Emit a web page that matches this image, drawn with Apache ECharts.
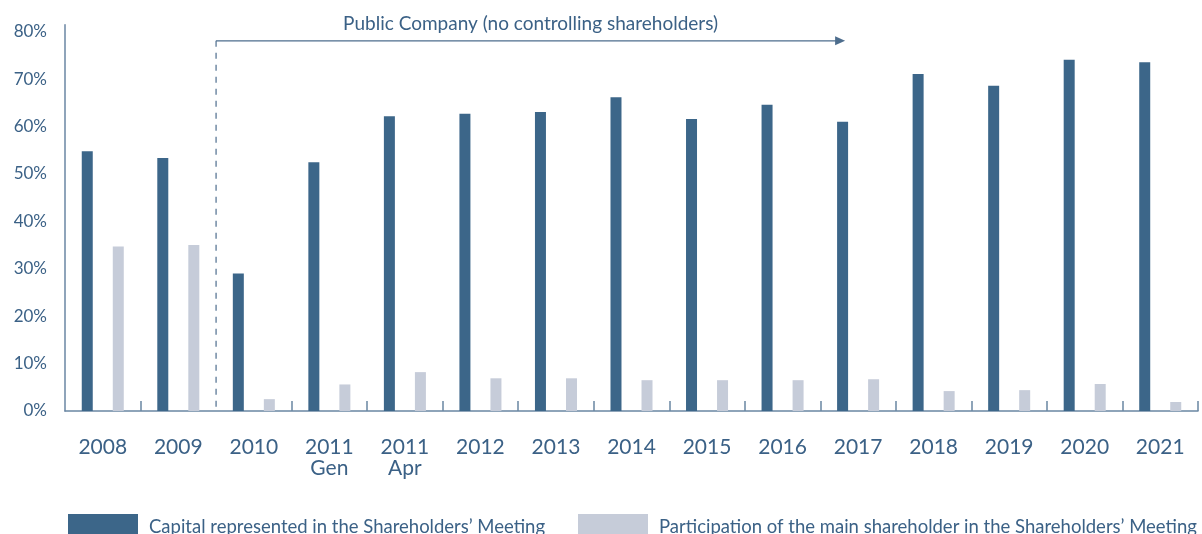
<!DOCTYPE html>
<html>
<head>
<meta charset="utf-8">
<script src="https://cdn.jsdelivr.net/npm/echarts@6/dist/echarts.min.js"></script>
<style>
html,body{margin:0;padding:0;background:#fff;}
#c{width:1202px;height:534px;}
</style>
</head>
<body>
<div id="c"></div>
<script>
const categories = ['2008','2009','2010','2011\nGen','2011\nApr','2012','2013','2014','2015','2016','2017','2018','2019','2020','2021'];
const capitalRepresented = [54.8, 53.4, 29.0, 52.5, 62.2, 62.7, 63.1, 66.2, 61.6, 64.6, 61.0, 71.1, 68.6, 74.1, 73.6];
const mainShareholder = [34.7, 35.0, 2.5, 5.6, 8.2, 6.9, 6.9, 6.5, 6.5, 6.5, 6.7, 4.2, 4.4, 5.7, 1.9];
const seriesNames = ['Capital represented in the Shareholders\u2019 Meeting', 'Participation of the main shareholder in the Shareholders\u2019 Meeting'];
const annotationText = 'Public Company (no controlling shareholders)';
const yTicks = [0, 10, 20, 30, 40, 50, 60, 70, 80];

const TXT = '#3b6186';
const DARK = '#3c6689';
const LIGHT = '#c6ccd9';
const AXIS = '#6a86a3';
const FONT = 'Lato';

const chart = echarts.init(document.getElementById('c'), null, {renderer: 'canvas'});
const option = {
  animation: false,
  backgroundColor: '#ffffff',
  textStyle: {fontFamily: FONT},
  grid: {left: 65, right: 4, top: 24.7, bottom: 123, containLabel: false},
  legend: [
    {data: [seriesNames[0]], left: 68, top: 514, padding: 0, icon: 'rect', itemWidth: 70, itemHeight: 26,
     textStyle: {color: TXT, fontSize: 18.5, fontFamily: FONT, lineHeight: 26, padding: [0,0,0,6]}},
    {data: [seriesNames[1]], left: 578, top: 514, padding: 0, icon: 'rect', itemWidth: 70, itemHeight: 26,
     textStyle: {color: TXT, fontSize: 18.5, fontFamily: FONT, lineHeight: 26, padding: [0,0,0,6]}}
  ],
  xAxis: {
    type: 'category',
    data: categories,
    boundaryGap: true,
    axisLine: {show: true, lineStyle: {color: AXIS, width: 1.5}},
    axisTick: {show: true, inside: true, length: 10, lineStyle: {color: AXIS, width: 1.5},
               interval: function (i) { return i !== 0 && i !== 2; }},
    axisLabel: {color: TXT, fontSize: 21, lineHeight: 21, margin: 26, fontFamily: FONT, interval: 0},
    splitLine: {show: false}
  },
  yAxis: {
    type: 'value',
    min: 0, max: 81.5, interval: 10,
    axisLine: {show: true, lineStyle: {color: AXIS, width: 1.5}},
    axisTick: {show: false},
    splitLine: {show: false},
    axisLabel: {color: TXT, fontSize: 17, margin: 18, fontFamily: FONT, showMaxLabel: false,
      formatter: function (v) { return yTicks.indexOf(v) >= 0 ? v + '%' : ''; }}
  },
  series: [
    {name: seriesNames[0], type: 'bar', data: capitalRepresented, barWidth: 11, barGap: '182%',
     itemStyle: {color: DARK}},
    {name: seriesNames[1], type: 'bar', data: mainShareholder, barWidth: 11, barGap: '182%',
     itemStyle: {color: LIGHT}}
  ]
};
chart.setOption(option);

// Annotation: dashed divider between 2009 and 2010, arrow over the public-company period
const x09 = chart.convertToPixel({xAxisIndex: 0}, '2009');
const x10 = chart.convertToPixel({xAxisIndex: 0}, '2010');
const x17 = chart.convertToPixel({xAxisIndex: 0}, '2017');
const xDiv = (x09 + x10) / 2;
const yZero = chart.convertToPixel({yAxisIndex: 0}, 0);
const yArrow = chart.convertToPixel({yAxisIndex: 0}, 78.1);
const yText = chart.convertToPixel({yAxisIndex: 0}, 81.7);
const xEnd = x17 - 13;
chart.setOption({
  graphic: [
    {type: 'line', shape: {x1: xDiv, y1: yArrow, x2: xDiv, y2: yZero},
     style: {stroke: '#4d6d8d', lineWidth: 1.2, lineDash: [6, 6]}, z: 10},
    {type: 'line', shape: {x1: xDiv, y1: yArrow, x2: xEnd - 8, y2: yArrow},
     style: {stroke: '#4d6d8d', lineWidth: 1.2}, z: 10},
    {type: 'polygon', shape: {points: [[xEnd, yArrow], [xEnd - 10, yArrow - 4.5], [xEnd - 10, yArrow + 4.5]]},
     style: {fill: '#4d6d8d'}, z: 10},
    {type: 'text', x: (xDiv + xEnd) / 2, y: yText,
     style: {text: annotationText, fill: TXT, font: '19px ' + FONT, align: 'center', verticalAlign: 'middle'}, z: 10}
  ]
});
</script>
</body>
</html>
